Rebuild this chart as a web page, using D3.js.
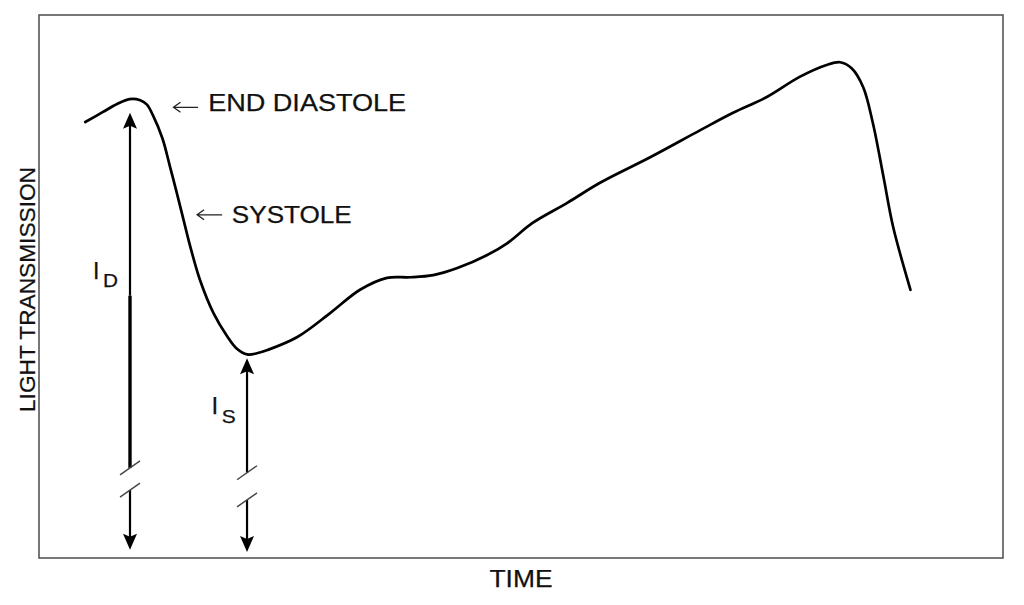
<!DOCTYPE html>
<html><head><meta charset="utf-8">
<script src="https://cdn.jsdelivr.net/npm/d3@7"></script>
<style>
body{margin:0;background:#fff}
svg{display:block}
text{font-family:"Liberation Sans",Arial,Helvetica,sans-serif;fill:#111;stroke:#111;stroke-width:0.25}
</style>
</head><body>
<svg id="chart" width="1024" height="605"></svg>
<script>
// ---- data (arbitrary units: time 0..100, transmission 0..100) ----
const time = [4.8, 6.6, 8.1, 9.4, 10.5, 11.2, 11.8, 12.8, 13.6, 14.3, 15.2, 15.7, 16.7, 18.1, 19.5, 20.5, 21.6, 22.6, 23.7, 26.8, 30.2, 33.3, 36.1, 38.5, 40.9, 43.4, 46.5, 48.6, 51.2, 54.8, 58.2, 63.4, 68.6, 72.0, 75.5, 78.9, 81.7, 83.1, 84.3, 85.5, 86.5, 87.6, 88.6, 90.4];
const transmission = [80.3, 82.1, 83.6, 84.5, 84.3, 83.5, 81.6, 77.3, 72.0, 67.2, 60.8, 57.3, 51.2, 45.1, 40.9, 38.6, 37.5, 37.7, 38.3, 40.7, 45.1, 49.4, 51.6, 51.7, 52.1, 53.4, 55.8, 58.0, 61.7, 65.4, 69.1, 73.8, 78.8, 82.0, 84.9, 88.6, 90.8, 91.3, 90.2, 86.7, 80.1, 70.2, 61.0, 49.4];

const phaseLabels = ["END DIASTOLE", "SYSTOLE"];
const intensitySubscripts = ["D", "S"];
const intensityTime = [9.44, 21.58];
const intensityTop = [82.0, 36.8];
const intensityBottom = [1.5, 1.1];
const breakUpper = [16.6, 15.7];
const breakLower = [12.5, 10.7];
const xTitle = "TIME";
const yTitle = "LIGHT TRANSMISSION";

// ---- layout ----
const svg = d3.select("#chart");
const L = 39, R = 1003, T = 15, B = 558;
const x = d3.scaleLinear([0, 100], [L, R]);
const y = d3.scaleLinear([0, 100], [B, T]);

// frame
svg.append("rect").attr("x", L).attr("y", T).attr("width", R - L).attr("height", B - T)
  .attr("fill", "none").attr("stroke", "#555").attr("stroke-width", 1.6);

// curve
const pts = time.map((t, i) => [t, transmission[i]]);
svg.append("path").datum(pts)
  .attr("d", d3.line().x(d => x(d[0])).y(d => y(d[1])).curve(d3.curveCatmullRom.alpha(0.5)))
  .attr("fill", "none").attr("stroke", "#000").attr("stroke-width", 2.7)
  .attr("stroke-linejoin", "round").attr("stroke-linecap", "round");

// filled arrowhead: tip at (px,py), dir = -1 up, +1 down
function head(px, py, dir) {
  const w = 7, l = 16, n = 13;
  return `M${px},${py} L${px - w},${py - dir * l} L${px},${py - dir * n} L${px + w},${py - dir * l} Z`;
}

intensityTime.forEach((t, i) => {
  const px = x(t);
  const yTop = y(intensityTop[i]), yBot = y(intensityBottom[i]);
  const yb1 = y(breakUpper[i]), yb2 = y(breakLower[i]);
  const g = svg.append("g");
  if (i === 0) {
    const yMid = y(48.3);
    g.append("line").attr("x1", px).attr("x2", px).attr("y1", yTop + 10).attr("y2", yMid)
      .attr("stroke", "#000").attr("stroke-width", 2.2);
    g.append("line").attr("x1", px).attr("x2", px).attr("y1", yMid).attr("y2", yb1)
      .attr("stroke", "#000").attr("stroke-width", 3.4);
  } else {
    g.append("line").attr("x1", px).attr("x2", px).attr("y1", yTop + 10).attr("y2", yb1)
      .attr("stroke", "#000").attr("stroke-width", 2.2);
  }
  g.append("line").attr("x1", px).attr("x2", px).attr("y1", yb2).attr("y2", yBot - 10)
    .attr("stroke", "#000").attr("stroke-width", 2.2);
  g.append("path").attr("d", head(px, yTop, -1)).attr("fill", "#000");
  g.append("path").attr("d", head(px, yBot, 1)).attr("fill", "#000");
  [yb1, yb2].forEach(yy => {
    g.append("line").attr("x1", px - 10).attr("x2", px + 10)
      .attr("y1", yy + 7).attr("y2", yy - 7)
      .attr("stroke", "#444").attr("stroke-width", 1.4);
  });
});

// I labels
const iLab = [
  {xi: x(5.6), yi: y(51.4), xs: x(6.65), ys: y(50.0), fi: 23, fs: 19, ls: 15},
  {xi: x(17.9), yi: y(26.5), xs: x(18.95), ys: y(24.9), fi: 24, fs: 19, ls: 14}
];
intensitySubscripts.forEach((s, i) => {
  const p = iLab[i];
  svg.append("text").attr("x", p.xi).attr("y", p.yi).attr("font-size", p.fi).text("I");
  svg.append("text").attr("x", p.xs).attr("y", p.ys).attr("font-size", p.fs)
    .attr("textLength", p.ls).attr("lengthAdjust", "spacingAndGlyphs").text(s);
});

// phase annotations with small open arrows
const ann = [
  {ax1: x(13.95), ax2: x(16.5), ay: y(83.0), tx: x(17.55), ty: y(82.3), len: 198},
  {ax1: x(16.4), ax2: x(19.0), ay: y(63.2), tx: x(20.0), ty: y(61.7), len: 120}
];
phaseLabels.forEach((lab, i) => {
  const a = ann[i];
  svg.append("path")
    .attr("d", `M${a.ax2},${a.ay} L${a.ax1},${a.ay} M${a.ax1 + 7},${a.ay - 5} L${a.ax1},${a.ay} L${a.ax1 + 7},${a.ay + 5}`)
    .attr("fill", "none").attr("stroke", "#222").attr("stroke-width", 1.3);
  svg.append("text").attr("x", a.tx).attr("y", a.ty).attr("font-size", 23)
    .attr("textLength", a.len).attr("lengthAdjust", "spacingAndGlyphs").text(lab);
});

// axis titles
svg.append("text").attr("x", (L + R) / 2).attr("y", 587).attr("font-size", 24)
  .attr("text-anchor", "middle").attr("textLength", 63).attr("lengthAdjust", "spacingAndGlyphs")
  .text(xTitle);
svg.append("text").attr("transform", `translate(35,${(T + B) / 2 + 3}) rotate(-90)`)
  .attr("font-size", 22.5).attr("text-anchor", "middle")
  .attr("textLength", 245).attr("lengthAdjust", "spacingAndGlyphs").text(yTitle);
</script>
</body></html>
